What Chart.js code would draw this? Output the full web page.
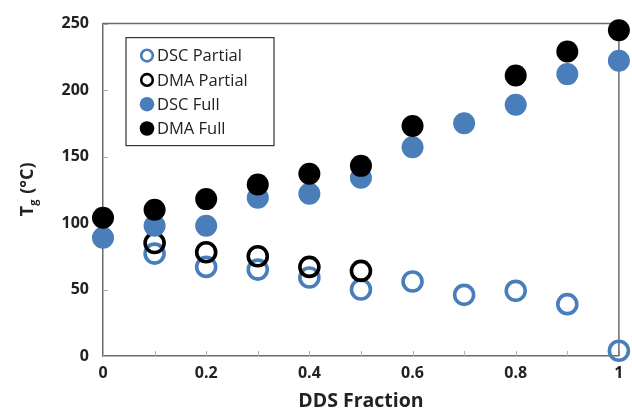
<!DOCTYPE html>
<html>
<head>
<meta charset="utf-8">
<script src="https://cdn.jsdelivr.net/npm/chart.js@4"></script>
<style>
  html, body { margin: 0; padding: 0; background: #fff; }
  #wrap { width: 632px; height: 413px; }
</style>
</head>
<body>
<div id="wrap"><canvas id="tgChart" width="632" height="413"></canvas></div>
<script>
// DDS fraction on x, Tg in degC on y
const ddsFraction = [0, 0.1, 0.2, 0.3, 0.4, 0.5, 0.6, 0.7, 0.8, 0.9, 1];
const dscPartialX = [0.1, 0.2, 0.3, 0.4, 0.5, 0.6, 0.7, 0.8, 0.9, 1];
const dscPartial = [77, 67, 65, 59, 50, 56, 46, 49, 39, 4];
const dmaPartialX = [0.1, 0.2, 0.3, 0.4, 0.5];
const dmaPartial = [85, 78, 75, 67, 64];
const dscFull = [89, 98, 98, 119, 122, 134, 157, 175, 189, 212, 222];
const dmaFullX = [0, 0.1, 0.2, 0.3, 0.4, 0.5, 0.6, 0.8, 0.9, 1];
const dmaFull = [104, 110, 118, 129, 137, 143, 173, 211, 229, 245];
const yTicks = [0, 50, 100, 150, 200, 250];

const blue = '#4a7ebb';
const font = "'Open Sans', 'DejaVu Sans', sans-serif";

const pts = (xs, ys) => xs.map((x, i) => ({ x: x, y: ys[i] }));

// box round the plot area, inner tick marks, legend, and the y title with subscript g
const extras = {
    id: 'extras',
    beforeDatasetsDraw(chart) {
        const ctx = chart.ctx;
        const a = chart.chartArea;
        const xs = chart.scales.x, ys = chart.scales.y;
        ctx.save();
        ctx.strokeStyle = '#b0b0b0';
        ctx.lineWidth = 1;
        ddsFraction.forEach(v => {
            const px = Math.round(xs.getPixelForValue(v)) + 0.5;
            ctx.beginPath();
            ctx.moveTo(px, a.bottom);
            ctx.lineTo(px, a.bottom - 5);
            ctx.stroke();
        });
        yTicks.forEach(v => {
            const py = Math.round(ys.getPixelForValue(v)) + 0.5;
            ctx.beginPath();
            ctx.moveTo(a.left, py);
            ctx.lineTo(a.left + 5, py);
            ctx.stroke();
        });
        ctx.strokeStyle = '#6b6b6b';
        ctx.lineWidth = 1.5;
        ctx.beginPath();
        ctx.moveTo(a.left, a.top);
        ctx.lineTo(a.right, a.top);
        ctx.lineTo(a.right, a.bottom);
        ctx.stroke();
        ctx.restore();
    },
    afterDraw(chart) {
        const ctx = chart.ctx;
        const a = chart.chartArea;
        ctx.save();

        // legend
        const lx = a.left + 23, ly = a.top + 14, lw = 148, lh = 108;
        ctx.fillStyle = '#fff';
        ctx.fillRect(lx, ly, lw, lh);
        ctx.strokeStyle = '#333';
        ctx.lineWidth = 1.2;
        ctx.strokeRect(lx, ly, lw, lh);
        const items = [
            { label: 'DSC Partial', color: blue, open: true },
            { label: 'DMA Partial', color: '#000', open: true },
            { label: 'DSC Full', color: blue, open: false },
            { label: 'DMA Full', color: '#000', open: false }
        ];
        ctx.font = '16.5px ' + font;
        ctx.textBaseline = 'middle';
        items.forEach((it, i) => {
            const cy = ly + 18 + i * 24.3;
            const cx = lx + 21;
            ctx.beginPath();
            if (it.open) {
                ctx.arc(cx, cy, 5.8, 0, Math.PI * 2);
                ctx.strokeStyle = it.color;
                ctx.lineWidth = 2.6;
                ctx.stroke();
            } else {
                ctx.arc(cx, cy, 7.3, 0, Math.PI * 2);
                ctx.fillStyle = it.color;
                ctx.fill();
            }
            ctx.fillStyle = '#222';
            ctx.fillText(it.label, cx + 10, cy + 1);
        });

        // y axis title: T_g (°C)
        ctx.translate(27, (a.top + a.bottom) / 2);
        ctx.rotate(-Math.PI / 2);
        ctx.fillStyle = '#222';
        ctx.textBaseline = 'alphabetic';
        const big = 'bold 18px ' + font, small = 'bold 11px ' + font;
        ctx.font = big;
        const wT = ctx.measureText('T').width;
        const wRest = ctx.measureText(' (°C)').width;
        ctx.font = small;
        const wg = ctx.measureText('g').width;
        let x0 = -(wT + wg + wRest) / 2;
        ctx.font = big;
        ctx.fillText('T', x0, 6);
        ctx.font = small;
        ctx.fillText('g', x0 + wT, 10);
        ctx.font = big;
        ctx.fillText(' (°C)', x0 + wT + wg + 1, 6);
        ctx.restore();
    }
};

const ctx = document.getElementById('tgChart').getContext('2d');
new Chart(ctx, {
    type: 'scatter',
    data: {
        datasets: [
            {
                label: 'DMA Full',
                data: pts(dmaFullX, dmaFull),
                backgroundColor: '#000',
                borderColor: '#000',
                borderWidth: 0,
                pointRadius: 11,
                order: 0
            },
            {
                label: 'DSC Full',
                data: pts(ddsFraction, dscFull),
                backgroundColor: blue,
                borderColor: blue,
                borderWidth: 0,
                pointRadius: 11,
                order: 1
            },
            {
                label: 'DMA Partial',
                data: pts(dmaPartialX, dmaPartial),
                backgroundColor: 'rgba(0,0,0,0)',
                borderColor: '#000',
                borderWidth: 3.6,
                pointRadius: 9.5,
                order: 2
            },
            {
                label: 'DSC Partial',
                data: pts(dscPartialX, dscPartial),
                backgroundColor: 'rgba(0,0,0,0)',
                borderColor: blue,
                borderWidth: 3.6,
                pointRadius: 9.5,
                order: 3
            }
        ]
    },
    options: {
        responsive: false,
        animation: false,
        clip: false,
        layout: { padding: { top: 23, right: 12, left: 0, bottom: 0 } },
        plugins: {
            legend: { display: false },
            tooltip: { enabled: false }
        },
        scales: {
            x: {
                type: 'linear',
                min: 0,
                max: 1,
                afterFit: s => { s.height = 57; },
                afterBuildTicks: s => { s.ticks = ddsFraction.map(v => ({ value: v })); },
                grid: { drawOnChartArea: false, drawTicks: false },
                border: { display: true, color: '#6b6b6b', width: 1.5 },
                ticks: {
                    color: '#222',
                    padding: 8,
                    maxRotation: 0,
                    autoSkip: false,
                    font: { family: font, size: 16, weight: 'bold' },
                    callback: v => (Math.round(v * 10) % 2 === 0 ? String(Math.round(v * 10) / 10) : '')
                },
                title: {
                    display: true,
                    text: 'DDS Fraction',
                    color: '#222',
                    padding: { top: 7, bottom: 0 },
                    font: { family: font, size: 19.5, weight: 'bold' }
                }
            },
            y: {
                min: 0,
                max: 250,
                afterFit: s => { s.width = 103; },
                afterBuildTicks: s => { s.ticks = yTicks.map(v => ({ value: v })); },
                grid: { drawOnChartArea: false, drawTicks: false },
                border: { display: true, color: '#6b6b6b', width: 1.5 },
                ticks: {
                    color: '#222',
                    padding: 14,
                    font: { family: font, size: 16, weight: 'bold' }
                }
            }
        }
    },
    plugins: [extras]
});
</script>
</body>
</html>
